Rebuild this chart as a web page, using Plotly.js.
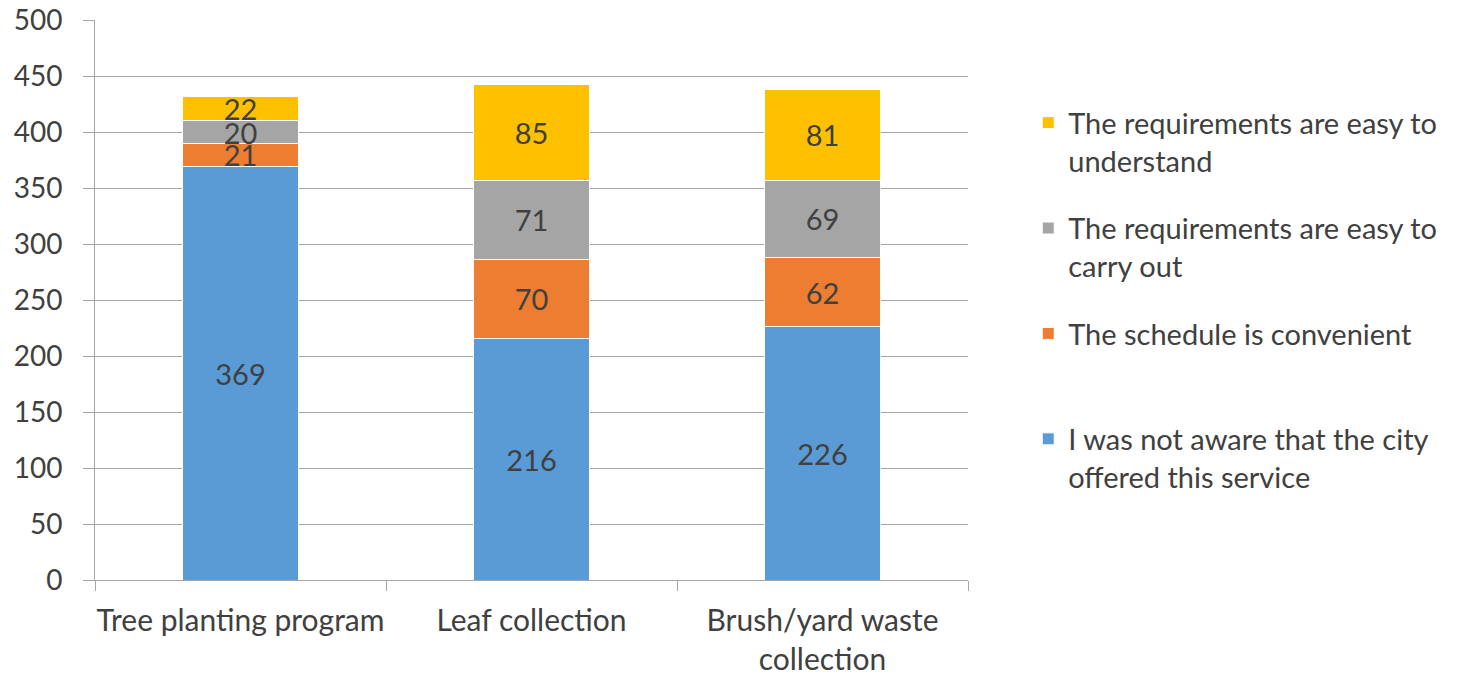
<!DOCTYPE html>
<html>
<head>
<meta charset="utf-8">
<script src="https://cdn.plot.ly/plotly-3.0.1.min.js"></script>
<style>
  html, body { margin: 0; padding: 0; background: #fff; }
  #chart { width: 1458px; height: 678px; }
</style>
</head>
<body>
<div id="chart"></div>
<script>
const categories = ['Tree planting program', 'Leaf collection', 'Brush/yard waste<br>collection'];
const notAware = [369, 216, 226];
const scheduleConvenient = [21, 70, 62];
const easyCarryOut = [20, 71, 69];
const easyUnderstand = [22, 85, 81];

const seriesNames = [
  'I was not aware that the city<br>offered this service',
  'The schedule is convenient<br>&nbsp;',
  'The requirements are easy to<br>carry out',
  'The requirements are easy to<br>understand',
];
const seriesColors = ['#5B9BD5', '#ED7D31', '#A5A5A5', '#FFC000'];
const seriesValues = [notAware, scheduleConvenient, easyCarryOut, easyUnderstand];

const fontFamily = 'Lato, "Open Sans", sans-serif';
const textColor = '#404040';
const gridColor = '#A6A6A6';

const traces = seriesValues.map(function (vals, i) {
  return {
    type: 'bar',
    x: categories,
    y: vals,
    name: seriesNames[i],
    legendgroup: 'g' + i,
    legendrank: 10 - i,
    marker: { color: seriesColors[i], line: { color: '#ffffff', width: 1 } },
    text: vals.map(String),
    textposition: 'inside',
    insidetextanchor: 'middle',
    textangle: 0,
    constraintext: 'none',
    textfont: { family: fontFamily, size: 29, color: textColor },
    hoverinfo: 'y+name',
  };
});

const layout = {
  width: 1458,
  height: 678,
  margin: { l: 95, r: 490, t: 20, b: 98 },
  paper_bgcolor: '#ffffff',
  plot_bgcolor: '#ffffff',
  barmode: 'stack',
  bargap: 0.6,
  font: { family: fontFamily, size: 30, color: textColor },
  showlegend: true,
  legend: {
    x: 1.069,
    xanchor: 'left',
    y: 0.862,
    yanchor: 'top',
    traceorder: 'grouped',
    tracegroupgap: 27,
    valign: 'top',
    font: { family: fontFamily, size: 29, color: textColor },
    bgcolor: 'rgba(0,0,0,0)',
  },
  xaxis: {
    type: 'category',
    showline: true,
    linecolor: gridColor,
    linewidth: 1,
    ticks: 'outside',
    tickson: 'boundaries',
    ticklen: 10,
    tickcolor: gridColor,
    showgrid: false,
    tickangle: 0,
    automargin: false,
    ticklabelstandoff: 14,
    tickfont: { family: fontFamily, size: 30, color: textColor },
  },
  yaxis: {
    range: [0, 500],
    dtick: 50,
    showline: true,
    linecolor: gridColor,
    linewidth: 1,
    ticks: 'outside',
    ticklen: 11,
    tickcolor: gridColor,
    showgrid: true,
    gridcolor: gridColor,
    gridwidth: 1,
    zeroline: false,
    automargin: false,
    ticklabelstandoff: 15,
    tickfont: { family: fontFamily, size: 28, color: textColor },
  },
};

Plotly.newPlot('chart', traces, layout, { displayModeBar: false, staticPlot: true });
</script>
</body>
</html>
